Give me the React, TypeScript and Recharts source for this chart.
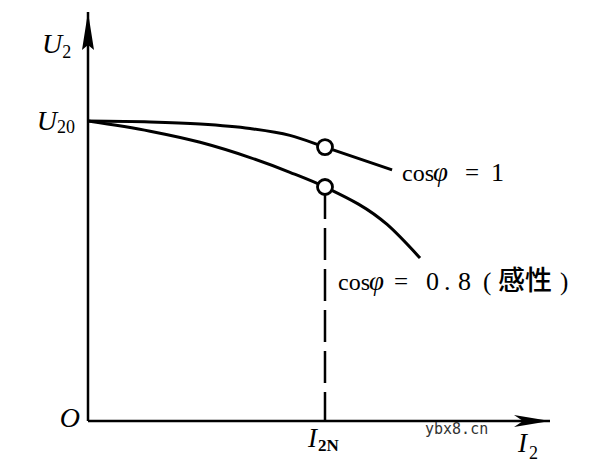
import React from 'react';
import { ComposedChart, Line, XAxis, YAxis, ReferenceDot, ReferenceLine } from 'recharts';

const SERIF = '"Liberation Serif", "Times New Roman", serif';
const CJK = '"Noto Sans CJK SC", sans-serif';

// I2 / I2N
const curveX1 = [0, 0.262, 0.473, 0.684, 0.852, 1.0, 1.283];
// U2 / U20, cos phi = 1
const curveU1 = [1.0, 0.997, 0.99, 0.975, 0.952, 0.913, 0.837];
const curveX2 = [0, 0.262, 0.473, 0.684, 0.852, 1.0, 1.262, 1.401];
// U2 / U20, cos phi = 0.8 (inductive)
const curveU2 = [1.0, 0.966, 0.929, 0.878, 0.829, 0.78, 0.655, 0.543];

const ratedX = 1.0;
const ratedU1 = 0.913;
const ratedU2 = 0.78;

const xTicks = [1.0];
const yTicks = [0, 1.0];
const X_MAX = 1.9494;
const Y_MAX = 1.3633;

const series1 = curveX1.map((x, i) => ({ x, u: curveU1[i] }));
const series2 = curveX2.map((x, i) => ({ x, u: curveU2[i] }));

const YTick = (props: any) => {
  const { x, y, payload } = props;
  if (payload.value === 0) {
    return (
      <text x={x - 8} y={y + 6} textAnchor="end" fontFamily={SERIF} fontStyle="italic" fontSize={28} fill="#000">O</text>
    );
  }
  return (
    <text x={x - 13} y={y + 9} textAnchor="end" fontFamily={SERIF} fill="#000">
      <tspan fontStyle="italic" fontSize={28}>U</tspan>
      <tspan fontSize={18} dy={3}>20</tspan>
    </text>
  );
};

const XTick = (props: any) => {
  const { x, y } = props;
  return (
    <text x={x - 17} y={y + 26} textAnchor="start" fontFamily={SERIF} fill="#000">
      <tspan fontStyle="italic" fontSize={27}>I</tspan>
      <tspan fontSize={17} fontWeight="bold" dy={4} dx={1}>2N</tspan>
    </text>
  );
};

const YArrow = (props: any) => {
  const { cx, cy } = props;
  return (
    <g>
      <polygon points={`${cx},${cy} ${cx - 6},${cy + 38} ${cx},${cy + 33} ${cx + 6},${cy + 38}`} fill="#000" />
      <text x={cx - 46} y={cy + 41} fontFamily={SERIF} fill="#000">
        <tspan fontStyle="italic" fontSize={28}>U</tspan>
        <tspan fontSize={18} dy={5}>2</tspan>
      </text>
    </g>
  );
};

const XArrow = (props: any) => {
  const { cx, cy } = props;
  return (
    <g>
      <polygon points={`${cx},${cy} ${cx - 36},${cy - 6} ${cx - 27},${cy} ${cx - 36},${cy + 6}`} fill="#000" />
      <text x={cx - 32} y={cy + 31} fontFamily={SERIF} fill="#000">
        <tspan fontStyle="italic" fontSize={27}>I</tspan>
        <tspan fontSize={18} dy={7} dx={2}>2</tspan>
      </text>
    </g>
  );
};

const Watermark = (props: any) => {
  const { cx, cy } = props;
  return (
    <text x={cx} y={cy + 13} fontFamily='"DejaVu Sans Mono", monospace' fontSize={15} fill="#333">ybx8.cn</text>
  );
};

const Label1 = (props: any) => {
  const { cx, cy } = props;
  const bx = cx + 10;
  const by = cy + 11;
  return (
    <text y={by} fontFamily={SERIF} fill="#000">
      <tspan x={bx} fontSize={24}>cos</tspan>
      <tspan x={bx + 31} fontSize={27} fontStyle="italic">φ</tspan>
      <tspan x={bx + 63} fontSize={25}>=</tspan>
      <tspan x={bx + 89} fontSize={26}>1</tspan>
    </text>
  );
};

const Label2 = (props: any) => {
  const { cx, cy } = props;
  const bx = cx - 82;
  const by = cy + 32;
  return (
    <text y={by} fontFamily={SERIF} fill="#000">
      <tspan x={bx} fontSize={24}>cos</tspan>
      <tspan x={bx + 31} fontSize={27} fontStyle="italic">φ</tspan>
      <tspan x={bx + 56} fontSize={25}>=</tspan>
      <tspan x={bx + 88} fontSize={26}>0</tspan>
      <tspan x={bx + 106} fontSize={26}>.</tspan>
      <tspan x={bx + 120} fontSize={26}>8</tspan>
      <tspan x={bx + 145} fontSize={25}>(</tspan>
      <tspan x={bx + 160} fontSize={27} fontFamily={CJK} fontWeight={500}>感性</tspan>
      <tspan x={bx + 222} fontSize={25}>)</tspan>
    </text>
  );
};

const last1 = series1[series1.length - 1];
const last2 = series2[series2.length - 1];

export default function App() {
  return (
    <div style={{ position: 'absolute', left: 0, top: 0, width: 603, height: 460, background: '#fff' }}>
      <ComposedChart width={603} height={460} margin={{ top: 12, right: 53, bottom: 9, left: 28 }}>
        <XAxis
          type="number"
          dataKey="x"
          domain={[0, X_MAX]}
          ticks={xTicks}
          tick={<XTick />}
          tickLine={false}
          tickSize={0}
          tickMargin={0}
          axisLine={{ stroke: '#000', strokeWidth: 2.5 }}
          height={30}
          allowDataOverflow
        />
        <YAxis
          type="number"
          domain={[0, Y_MAX]}
          ticks={yTicks}
          tick={<YTick />}
          tickLine={false}
          tickSize={0}
          tickMargin={0}
          axisLine={{ stroke: '#000', strokeWidth: 2.5 }}
          width={60}
          allowDataOverflow
        />
        <ReferenceLine
          segment={[{ x: ratedX, y: ratedU2 }, { x: ratedX, y: 0 }]}
          stroke="#000"
          strokeWidth={2.5}
          strokeDasharray="32 9"
          ifOverflow="visible"
        />
        <Line data={series1} dataKey="u" type="monotone" stroke="#000" strokeWidth={3} dot={false} isAnimationActive={false} />
        <Line data={series2} dataKey="u" type="monotone" stroke="#000" strokeWidth={3} dot={false} isAnimationActive={false} />
        <ReferenceDot x={ratedX} y={ratedU1} r={7.5} fill="#fff" stroke="#000" strokeWidth={2.8} ifOverflow="visible" />
        <ReferenceDot x={ratedX} y={ratedU2} r={7.5} fill="#fff" stroke="#000" strokeWidth={2.8} ifOverflow="visible" />
        <ReferenceDot x={last1.x} y={last1.u} shape={<Label1 />} ifOverflow="visible" />
        <ReferenceDot x={last2.x} y={last2.u} shape={<Label2 />} ifOverflow="visible" />
        <ReferenceDot x={0} y={Y_MAX} shape={<YArrow />} ifOverflow="visible" />
        <ReferenceDot x={X_MAX} y={0} shape={<XArrow />} ifOverflow="visible" />
        <ReferenceDot x={1.422} y={0} shape={<Watermark />} ifOverflow="visible" />
      </ComposedChart>
    </div>
  );
}
